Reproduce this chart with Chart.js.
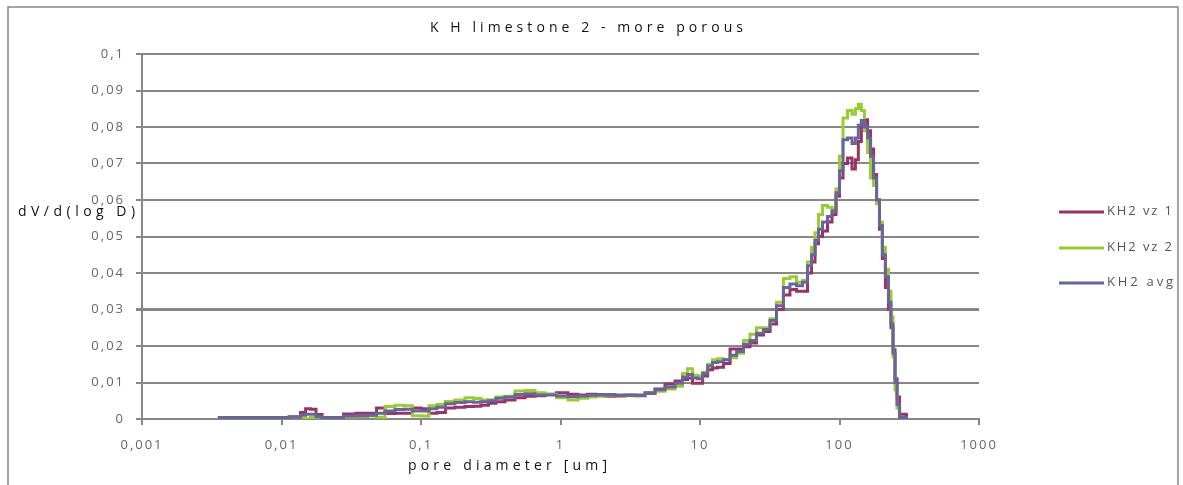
<!DOCTYPE html>
<html>
<head>
<meta charset="utf-8">
<script src="https://cdn.jsdelivr.net/npm/chart.js@4.4.0/dist/chart.umd.min.js"></script>
<style>
  html, body { margin: 0; padding: 0; background: #fff; }
</style>
</head>
<body>
<canvas id="chart" width="1183" height="485"></canvas>
<script>
// pore diameter [um]
const diam = [0.0035, 0.005, 0.007, 0.0098, 0.0131, 0.0143, 0.0155, 0.0168, 0.0186, 0.0205,
  0.025, 0.031, 0.0378, 0.0453, 0.0509, 0.060, 0.0707, 0.0807, 0.0936, 0.107,
  0.122, 0.139, 0.161, 0.190, 0.225, 0.252, 0.287, 0.323, 0.368, 0.434,
  0.513, 0.604, 0.713, 0.841, 1.04, 1.23, 1.45, 1.68, 1.92, 2.26,
  2.67, 3.15, 3.72, 4.38, 5.17, 6.10, 7.19, 7.80, 8.48, 9.21,
  10.0, 10.9, 11.8, 12.8, 13.9, 15.6, 17.3, 19.4, 21.7, 24.0,
  26.9, 30.2, 33.4, 37.4, 42.0, 46.4, 52.1, 56.6, 61.5, 64.6,
  69.0, 72.5, 78.7, 85.5, 91.4, 97.5, 102.5, 109.5, 119, 127,
  133, 140, 147, 155, 163, 171, 180, 189, 198, 208,
  219, 230, 238, 246, 254, 263, 276, 290, 310];

const kh2vz1 = [0.0004, 0.0004, 0.0004, 0.0004, 0.0006, 0.0018, 0.0028, 0.0027, 0.0012, 0.0004,
  0.0004, 0.0014, 0.0016, 0.0016, 0.0030, 0.0015, 0.0016, 0.0016, 0.0030, 0.0028,
  0.0016, 0.0018, 0.0030, 0.0032, 0.0034, 0.0035, 0.0038, 0.0043, 0.0047, 0.0052,
  0.0058, 0.0062, 0.0064, 0.0068, 0.0072, 0.0068, 0.0066, 0.0068, 0.0067, 0.0062,
  0.0063, 0.0066, 0.0064, 0.0070, 0.0082, 0.0096, 0.0104, 0.0108, 0.0112, 0.0098,
  0.0098, 0.0118, 0.0135, 0.0140, 0.0142, 0.0152, 0.0192, 0.0192, 0.0198, 0.0208,
  0.0230, 0.0240, 0.0260, 0.0300, 0.0340, 0.0355, 0.0350, 0.0350, 0.0400, 0.0430,
  0.0480, 0.0500, 0.0515, 0.0540, 0.0560, 0.0610, 0.0660, 0.0700, 0.0715, 0.0685,
  0.0710, 0.0760, 0.0808, 0.0820, 0.0790, 0.0740, 0.0670, 0.0600, 0.0520, 0.0440,
  0.0360, 0.0300, 0.0250, 0.0190, 0.0110, 0.0060, 0.0013, 0.0013, 0.0010];

const kh2vz2 = [0.0004, 0.0004, 0.0004, 0.0004, 0.0004, 0.0005, 0.0001, 0.0004, 0.0004, 0.0004,
  0.0004, 0.0006, 0.0007, 0.0008, 0.0005, 0.0034, 0.0038, 0.0036, 0.0009, 0.0008,
  0.0036, 0.0040, 0.0048, 0.0052, 0.0058, 0.0056, 0.0052, 0.0053, 0.0060, 0.0062,
  0.0077, 0.0078, 0.0072, 0.0068, 0.0058, 0.0052, 0.0057, 0.0060, 0.0062, 0.0066,
  0.0066, 0.0064, 0.0066, 0.0072, 0.0076, 0.0082, 0.0090, 0.0125, 0.0138, 0.0120,
  0.0118, 0.0128, 0.0150, 0.0162, 0.0165, 0.0163, 0.0168, 0.0180, 0.0215, 0.0232,
  0.0250, 0.0250, 0.0275, 0.0320, 0.0385, 0.0390, 0.0375, 0.0380, 0.0430, 0.0470,
  0.0510, 0.0560, 0.0585, 0.0580, 0.0575, 0.0630, 0.0720, 0.0825, 0.0845, 0.0835,
  0.0850, 0.0862, 0.0845, 0.0790, 0.0730, 0.0660, 0.0640, 0.0590, 0.0540, 0.0470,
  0.0410, 0.0350, 0.0280, 0.0170, 0.0080, 0.0030, 0.0003, 0.0003, 0.0003];

const kh2avg = [0.0004, 0.0004, 0.0004, 0.0004, 0.0005, 0.0011, 0.0013, 0.0013, 0.0006, 0.0004,
  0.0004, 0.0008, 0.0009, 0.0010, 0.0016, 0.0022, 0.0026, 0.0027, 0.0022, 0.0022,
  0.0028, 0.0032, 0.0042, 0.0045, 0.0047, 0.0046, 0.0047, 0.0050, 0.0057, 0.0060,
  0.0067, 0.0069, 0.0066, 0.0066, 0.0063, 0.0061, 0.0063, 0.0065, 0.0066, 0.0067,
  0.0065, 0.0065, 0.0065, 0.0072, 0.0080, 0.0088, 0.0098, 0.0115, 0.0122, 0.0112,
  0.0110, 0.0125, 0.0145, 0.0155, 0.0157, 0.0162, 0.0175, 0.0185, 0.0205, 0.0215,
  0.0235, 0.0245, 0.0270, 0.0310, 0.0360, 0.0370, 0.0365, 0.0375, 0.0420, 0.0450,
  0.0490, 0.0520, 0.0540, 0.0555, 0.0570, 0.0620, 0.0680, 0.0765, 0.0770, 0.0755,
  0.0770, 0.0805, 0.0818, 0.0800, 0.0770, 0.0720, 0.0660, 0.0600, 0.0530, 0.0450,
  0.0390, 0.0320, 0.0260, 0.0180, 0.0100, 0.0040, 0.0004, 0.0004, 0.0004];

const seriesNames = ['KH2 vz 1', 'KH2 vz 2', 'KH2 avg'];
const seriesColors = ['#993366', '#99cc33', '#666699'];

const xTicks = [0.001, 0.01, 0.1, 1, 10, 100, 1000];
const xTickLabels = ['0,001', '0,01', '0,1', '1', '10', '100', '1000'];
const yTicks = [0, 0.01, 0.02, 0.03, 0.04, 0.05, 0.06, 0.07, 0.08, 0.09, 0.1];
const yTickLabels = ['0', '0,01', '0,02', '0,03', '0,04', '0,05', '0,06', '0,07', '0,08', '0,09', '0,1'];

const chartTitle = 'K H limestone 2 - more porous';
const xTitle = 'pore diameter [um]';
const yTitle = 'dV/d(log D)';

const gridColor = '#878787';
const tickFont = { family: 'Open Sans', size: 13 };

function toPoints(arr) {
  return diam.map((d, i) => ({ x: d, y: arr[i] }));
}

// draw text stretched to a given width (the original has wide letter spacing)
function fitText(ctx, text, x, y, width) {
  ctx.letterSpacing = '0px';
  let w = ctx.measureText(text).width;
  let sp = (width - w) / (text.length - 1);
  ctx.letterSpacing = sp.toFixed(2) + 'px';
  ctx.textAlign = 'left';
  ctx.fillText(text, x, y);
  ctx.letterSpacing = '0px';
}

const decor = {
  id: 'decor',
  beforeDraw(chart) {
    chart.ctx.letterSpacing = '2px';
  },
  afterDraw(chart) {
    const ctx = chart.ctx;
    ctx.save();
    ctx.letterSpacing = '0px';
    // outer frame
    ctx.strokeStyle = gridColor;
    ctx.lineWidth = 1.5;
    ctx.strokeRect(8, 7, 1170, 490);

    ctx.textBaseline = 'middle';
    ctx.fillStyle = '#111';
    ctx.font = '14px "Open Sans"';
    fitText(ctx, chartTitle, 430, 28, 313);
    fitText(ctx, yTitle, 18, 212, 117);
    fitText(ctx, xTitle, 408, 466, 199);

    // legend
    const rows = [212, 248, 283];
    const widths = [65, 65, 66];
    chart.data.datasets.forEach((ds, i) => {
      ctx.strokeStyle = ds.borderColor;
      ctx.lineWidth = 3;
      ctx.beginPath();
      ctx.moveTo(1059, rows[i]);
      ctx.lineTo(1104, rows[i]);
      ctx.stroke();
      ctx.fillStyle = '#555';
      ctx.font = '13px "Open Sans"';
      fitText(ctx, ds.label, 1107, rows[i] - 1, widths[i]);
    });
    ctx.restore();
  }
};

const datasets = [kh2vz1, kh2vz2, kh2avg].map((arr, i) => ({
  label: seriesNames[i],
  data: toPoints(arr),
  borderColor: seriesColors[i],
  backgroundColor: seriesColors[i],
  borderWidth: 3,
  pointRadius: 0,
  stepped: 'middle',
  fill: false,
  order: 3 - i
}));

new Chart(document.getElementById('chart'), {
  type: 'line',
  data: { datasets: datasets },
  plugins: [decor],
  options: {
    responsive: false,
    animation: false,
    devicePixelRatio: 1,
    layout: { padding: { left: 0, top: 54, right: 204, bottom: 0 } },
    plugins: {
      legend: { display: false },
      title: { display: false },
      tooltip: { enabled: false }
    },
    scales: {
      x: {
        type: 'logarithmic',
        min: 0.001,
        max: 1000,
        afterBuildTicks: (scale) => { scale.ticks = xTicks.map(v => ({ value: v })); },
        afterFit: (scale) => { scale.height = 66; },
        grid: { drawOnChartArea: false, color: gridColor, lineWidth: 2, tickLength: 6 },
        border: { color: gridColor, width: 2 },
        ticks: {
          autoSkip: false,
          maxRotation: 0,
          padding: 12,
          color: '#666',
          font: tickFont,
          callback: (v, i) => xTickLabels[i]
        }
      },
      y: {
        min: 0,
        max: 0.1,
        afterBuildTicks: (scale) => { scale.ticks = yTicks.map(v => ({ value: v })); },
        afterFit: (scale) => { scale.width = 142; },
        grid: {
          color: gridColor,
          lineWidth: (c) => (c.tick && Math.abs(c.tick.value - 0.03) < 1e-9 ? 3 : 2),
          tickLength: 6
        },
        border: { color: gridColor, width: 2 },
        ticks: {
          padding: 11,
          color: '#666',
          font: tickFont,
          callback: (v, i) => yTickLabels[i]
        }
      }
    }
  }
});
</script>
</body>
</html>
